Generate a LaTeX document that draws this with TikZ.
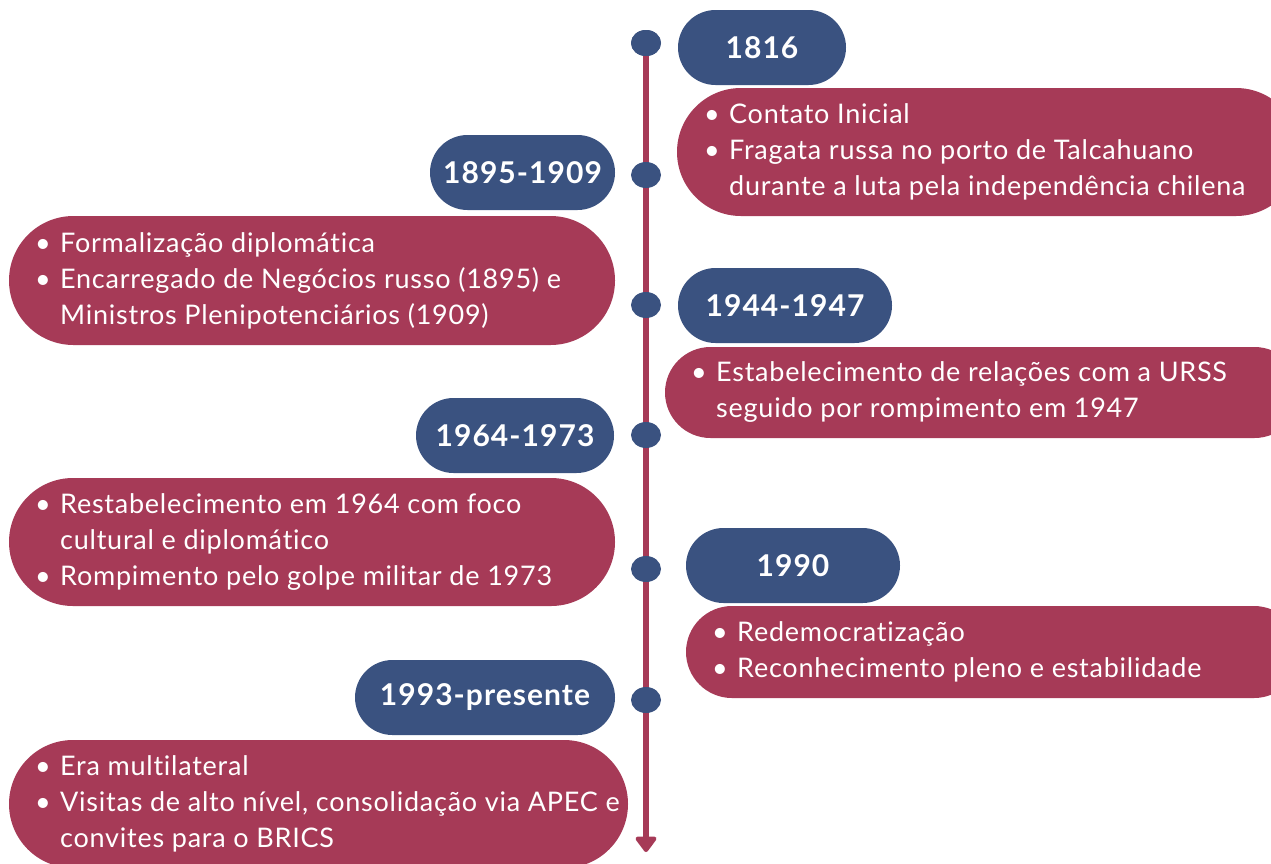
\documentclass[tikz,border=0pt]{standalone}
\usepackage{fontspec}
\setmainfont[Ligatures={NoCommon}]{Lato}
\usetikzlibrary{shapes.misc,shapes.geometric,arrows.meta}
\definecolor{pillblue}{RGB}{58,82,128}
\definecolor{pillred}{RGB}{166,58,87}
\newcommand{\itm}{\makebox[25pt][l]{\textbullet}}
\newcommand{\cnt}{\hspace*{25pt}}

\begin{document}
\begin{tikzpicture}[x=1pt,y=-1pt]
\tikzset{year/.style={rounded rectangle,fill=pillblue,text=white,minimum height=75pt,inner sep=0pt,font=\fontsize{30}{34}\selectfont\bfseries\addfontfeature{LetterSpace=3.5}}}
\tikzset{event/.style={rounded rectangle,fill=pillred,inner sep=0pt}}
\tikzset{items/.style={align=left,anchor=west,text=white,inner sep=0pt,font=\fontsize{27}{36}\selectfont\addfontfeature{LetterSpace=2.8}}}
\tikzset{dot/.style={ellipse,fill=pillblue,minimum width=30pt,minimum height=26pt,inner sep=0pt}}
\useasboundingbox (0,0) rectangle (1271,863);
\clip (0,0) rectangle (1271,863);

% timeline
\node[dot] (d1) at (646,43) {};
\coordinate (tip) at (646,852);
\draw[pillred,line width=6.5pt,-{Triangle[width=24pt,length=17pt,round]}] (d1.center) -- (tip);
\node[dot] (d1) at (646,43) {};
\node[dot] (d2) at (646,175) {};
\node[dot] (d3) at (646,305) {};
\node[dot] (d4) at (646,435) {};
\node[dot] (d5) at (646,569) {};
\node[dot] (d6) at (646,700) {};

% years
\node[year,minimum width=168pt] (y1) at (762,47.5) {1816};
\node[year,minimum width=185pt] (y2) at (522.5,172.5) {1895-1909};
\node[year,minimum width=214pt] (y3) at (785,305.5) {1944-1947};
\node[year,minimum width=198pt] (y4) at (515,435.5) {1964-1973};
\node[year,minimum width=214pt] (y5) at (793,565.5) {1990};
\node[year,minimum width=260pt] (y6) at (485,697.5) {1993-presente};

% events
\node[event,minimum width=623pt,minimum height=128pt] (e1) at (988.5,152) {};
\node[items] (t1) at (704,152) {\itm Contato Inicial\\ \itm Fragata russa no porto de Talcahuano\\ \cnt durante a luta pela independência chilena};
\node[event,minimum width=606pt,minimum height=129pt] (e2) at (312,280.5) {};
\node[items] (t2) at (35,280.5) {\itm Formalização diplomática\\ \itm Encarregado de Negócios russo (1895) e\\ \cnt Ministros Plenipotenciários (1909)};
\node[event,minimum width=635pt,minimum height=91pt] (e3) at (982.5,392.5) {};
\node[items] (t3) at (691,392.5) {\itm Estabelecimento de relações com a URSS\\ \cnt seguido por rompimento em 1947};
\node[event,minimum width=606pt,minimum height=128pt] (e4) at (312,542) {};
\node[items] (t4) at (35,542) {\itm Restabelecimento em 1964 com foco\\ \cnt cultural e diplomático\\ \itm Rompimento pelo golpe militar de 1973};
\node[event,minimum width=614pt,minimum height=92pt] (e5) at (993,652) {};
\node[items] (t5) at (712,652) {\itm Redemocratização\\ \itm Reconhecimento pleno e estabilidade};
\node[event,minimum width=619pt,minimum height=128pt] (e6) at (318.5,804) {};
\node[items] (t6) at (35,804) {\itm Era multilateral\\ \itm Visitas de alto nível, consolidação via APEC e\\ \cnt convites para o BRICS};
\end{tikzpicture}
\end{document}
